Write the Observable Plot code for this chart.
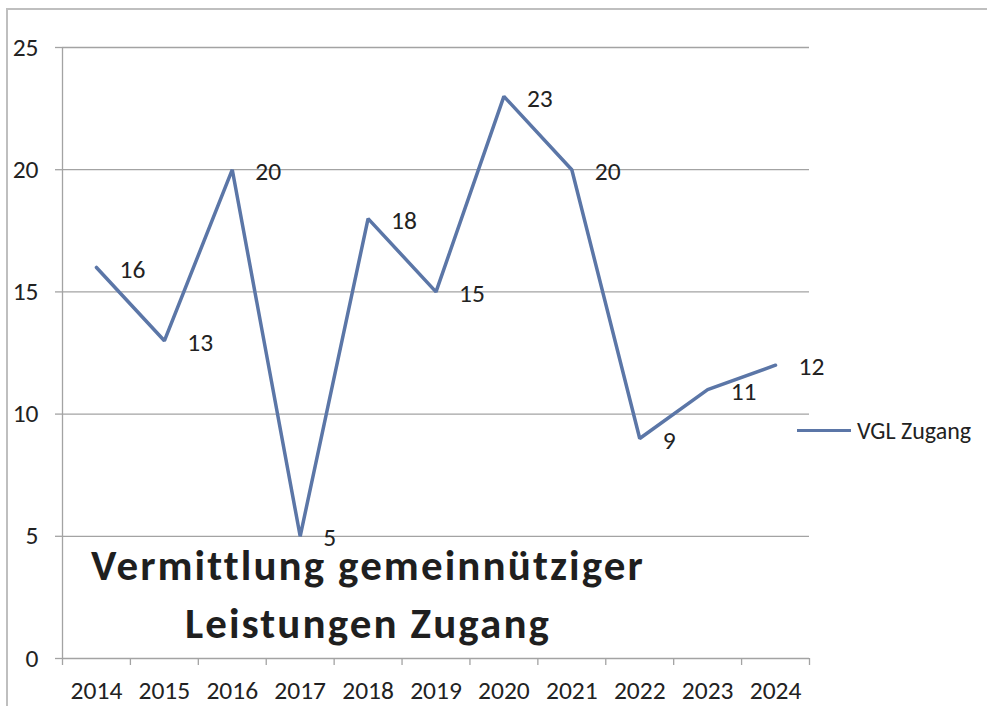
<!DOCTYPE html>
<html>
<head>
<meta charset="utf-8">
<script src="https://cdn.jsdelivr.net/npm/d3@7"></script>
<script src="https://cdn.jsdelivr.net/npm/@observablehq/plot@0.6"></script>
<style>
  html, body { margin: 0; padding: 0; background: #fff; overflow: hidden; }
  #wrap { position: relative; width: 987px; height: 706px; font-family: Carlito, Lato, sans-serif; }
  #border { position: absolute; left: 6px; top: 8px; width: 1100px; height: 1000px; border: 2px solid #bfbfbf; box-sizing: border-box; }
  #chart { position: absolute; left: 0; top: 0; }
  #title { position: absolute; left: 68px; width: 600px; top: 537px; text-align: center; font-weight: bold; font-size: 43px; letter-spacing: 2.1px; line-height: 58px; color: #1f1f1f; white-space: nowrap; }
  #legend { position: absolute; left: 797px; top: 416px; font-size: 24px; color: #222; display: flex; align-items: center; }
  #legend span.sw { display: inline-block; width: 54px; height: 3.5px; background: #5b76a7; margin-right: 6px; }
</style>
</head>
<body>
<div id="wrap">
  <div id="border"></div>
  <div id="chart"></div>
  <div id="title">Vermittlung gemeinnütziger<br>Leistungen Zugang</div>
  <div id="legend"><span class="sw"></span><span id="legtext"></span></div>
</div>
<script>
const years = [2014, 2015, 2016, 2017, 2018, 2019, 2020, 2021, 2022, 2023, 2024];
const values = [16, 13, 20, 5, 18, 15, 23, 20, 9, 11, 12];
const yTicks = [0, 5, 10, 15, 20, 25];
const seriesName = "VGL Zugang";

const data = years.map((y, i) => ({year: y, value: values[i]}));
const boundaries = [years[0] - 0.5, ...years.map(y => y + 0.5)];

const lineColor = "#5b76a7";
const gridColor = "#a3a3a3";
const textColor = "#222";
const fs = 25.5;

const chart = Plot.plot({
  width: 987,
  height: 706,
  marginLeft: 62,
  marginRight: 178,
  marginTop: 47,
  marginBottom: 48,
  style: {fontFamily: "Carlito, Lato, sans-serif", fontSize: fs + "px", color: textColor, background: "transparent"},
  x: {type: "linear", domain: [years[0] - 0.5, years[years.length - 1] + 0.5]},
  y: {domain: [0, 25]},
  marks: [
    Plot.ruleY(yTicks.filter(d => d > 0), {stroke: gridColor, strokeWidth: 1.3}),
    Plot.ruleY([0], {stroke: gridColor, strokeWidth: 1.3}),
    Plot.ruleX([boundaries[0]], {y1: 0, y2: 25, stroke: gridColor, strokeWidth: 1.3}),
    Plot.axisY({ticks: yTicks, tickSize: 7, tickPadding: 17, stroke: gridColor, strokeWidth: 1.3, fill: textColor, label: null, fontSize: fs}),
    Plot.axisX({ticks: boundaries, tickSize: 7, tickFormat: () => "", stroke: gridColor, strokeWidth: 1.3, label: null}),
    Plot.axisX({ticks: years, tickSize: 0, tickPadding: 22, tickFormat: d => String(d), fill: textColor, label: null, fontSize: fs}),
    Plot.line(data, {x: "year", y: "value", stroke: lineColor, strokeWidth: 3.5, strokeLinejoin: "miter"}),
    Plot.text(data, {x: "year", y: "value", text: d => String(d.value), textAnchor: "start", dx: 23, dy: 2, fill: textColor, fontSize: fs})
  ]
});
document.getElementById("chart").appendChild(chart);
document.getElementById("legtext").textContent = seriesName;
</script>
</body>
</html>
